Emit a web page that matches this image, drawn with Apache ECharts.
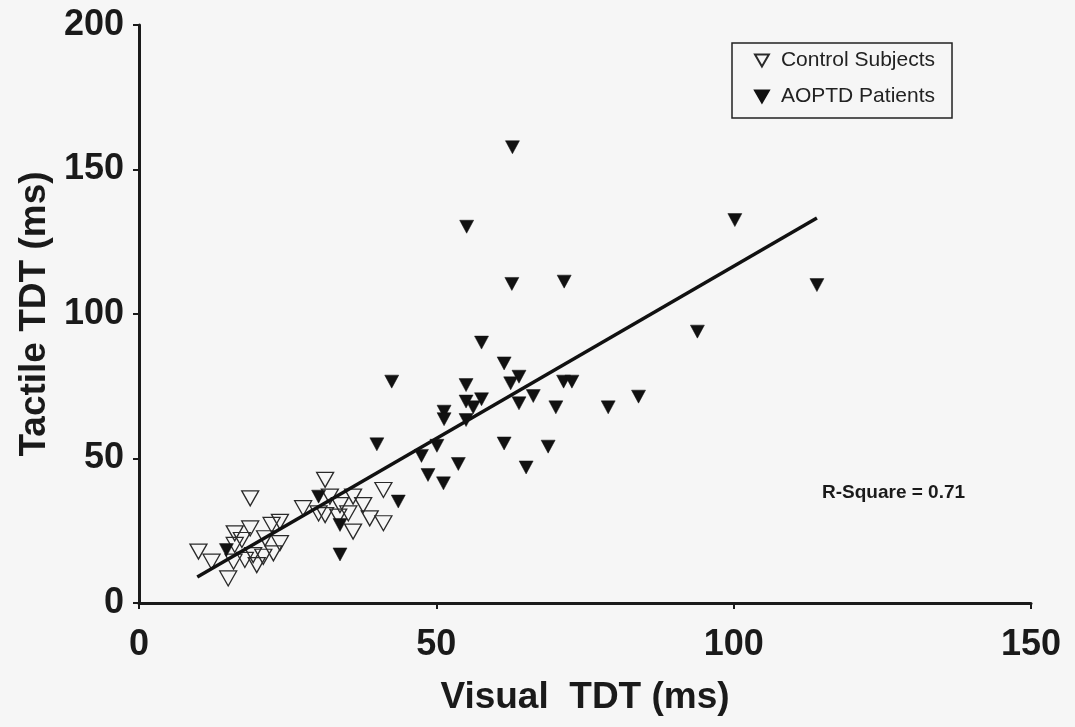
<!DOCTYPE html>
<html lang="en">

<head>
  <meta charset="UTF-8">
  <title>Tactile vs Visual TDT</title>
  <style>
    html, body { margin: 0; padding: 0; background: #f6f6f6; }
    #chart { width: 1075px; height: 727px; }
  </style>
  <script src="https://cdn.jsdelivr.net/npm/echarts@6/dist/echarts.min.js"></script>
</head>

<body>
  <div id="chart"></div>
  <script>
    // control subjects (open triangles)
    const controlX = [10.0, 12.2, 15.0, 18.7, 16.1, 18.7, 17.3, 16.1, 22.3, 23.7, 21.2, 23.7, 22.6, 20.9, 19.8, 19.2, 17.8, 15.9,
      31.3, 41.1, 27.6, 32.1, 36.0, 37.7, 33.8, 30.2, 35.2, 33.5, 38.8, 41.1, 36.0, 31.3];
    const controlY = [17.8, 14.3, 8.5, 36.2, 24.1, 25.8, 21.8, 20.1, 27.0, 28.1, 22.4, 20.7, 17.2, 16.0, 13.1, 16.6, 14.9, 14.3,
      42.6, 39.1, 32.8, 36.8, 36.8, 33.9, 33.9, 31.0, 31.0, 29.9, 29.3, 27.6, 24.7, 30.4];

    // AOPTD patients (filled triangles)
    const patientX = [62.8, 100.2, 114.0, 55.1, 62.7, 71.5, 93.9, 57.6, 61.4, 42.5, 55.0, 63.9, 62.5, 71.4, 72.8, 66.3,
      57.6, 55.0, 56.2, 63.9, 70.1, 78.9, 84.0, 51.3, 51.3, 55.0, 40.0, 50.1, 61.4, 68.8, 47.5, 53.7, 48.6, 51.2,
      65.1, 43.6, 30.2, 33.8, 33.8, 14.7];
    const patientY = [157.7, 132.5, 110.0, 130.2, 110.4, 111.2, 93.9, 90.1, 82.9, 76.6, 75.4, 78.3, 76.0, 76.6, 76.6, 71.6,
      70.5, 69.7, 67.7, 69.1, 67.7, 67.7, 71.4, 66.2, 63.6, 63.3, 54.9, 54.4, 55.2, 54.1, 50.9, 48.1, 44.3, 41.4,
      46.9, 35.1, 36.8, 27.0, 16.8, 18.3];

    // regression line end points
    const fitX = [9.8, 114.0];
    const fitY = [9.0, 133.2];

    const xTicks = [0, 50, 100, 150];
    const yTicks = [0, 50, 100, 150, 200];

    const downTri = 'path://M0,0L20,0L10,17.3Z';
    const font = '"Liberation Sans", Arial, sans-serif';

    function pairs(xs, ys) {
      return xs.map(function (x, i) { return [x, ys[i]]; });
    }

    let myChart = echarts.init(document.getElementById('chart'), null, { renderer: 'canvas' });

    let option = {
      backgroundColor: '#f6f6f6',
      animation: false,
      grid: {
        left: 139,
        right: 44,
        top: 25,
        bottom: 124
      },
      legend: {
        orient: 'vertical',
        left: 732,
        top: 43,
        padding: [7, 17, 11, 22],
        itemGap: 15,
        itemWidth: 14,
        itemHeight: 12,
        borderColor: '#222',
        borderWidth: 1.5,
        textStyle: {
          fontFamily: font,
          fontSize: 21,
          color: '#222',
          padding: [0, 0, 0, 7]
        },
        data: ['Control Subjects', 'AOPTD Patients']
      },
      xAxis: {
        type: 'value',
        min: xTicks[0],
        max: xTicks[xTicks.length - 1],
        interval: 50,
        name: 'Visual  TDT (ms)',
        nameLocation: 'middle',
        nameGap: 76,
        nameTextStyle: { fontFamily: font, fontSize: 37, fontWeight: 'bold', color: '#1a1a1a' },
        splitLine: { show: false },
        axisLine: { lineStyle: { color: '#1a1a1a', width: 3 } },
        axisTick: { show: true, inside: false, length: 6, lineStyle: { color: '#1a1a1a', width: 2 } },
        axisLabel: { margin: 24, fontFamily: font, fontSize: 36, fontWeight: 'bold', color: '#1a1a1a' }
      },
      yAxis: {
        type: 'value',
        min: yTicks[0],
        max: yTicks[yTicks.length - 1],
        interval: 50,
        name: 'Tactile TDT (ms)',
        nameLocation: 'middle',
        nameGap: 86,
        nameRotate: 90,
        nameTextStyle: { fontFamily: font, fontSize: 37, fontWeight: 'bold', color: '#1a1a1a' },
        splitLine: { show: false },
        axisLine: { show: true, lineStyle: { color: '#1a1a1a', width: 3 } },
        axisTick: { show: true, inside: false, length: 6, lineStyle: { color: '#1a1a1a', width: 2 } },
        axisLabel: { margin: 15, fontFamily: font, fontSize: 36, fontWeight: 'bold', color: '#1a1a1a' }
      },
      graphic: [
        {
          type: 'text',
          left: 822,
          top: 483,
          style: {
            text: 'R-Square = 0.71',
            fontFamily: font,
            fontSize: 19,
            fontWeight: 'bold',
            fill: '#1a1a1a'
          }
        }
      ],
      series: [
        {
          name: 'Control Subjects',
          type: 'scatter',
          symbol: downTri,
          symbolSize: [17, 15],
          itemStyle: {
            color: 'rgba(255,255,255,0)',
            borderColor: '#2a2a2a',
            borderWidth: 1.3,
            opacity: 1
          },
          data: pairs(controlX, controlY),
          z: 2
        },
        {
          name: 'AOPTD Patients',
          type: 'scatter',
          symbol: downTri,
          symbolSize: [14, 13],
          itemStyle: {
            color: '#111',
            borderColor: '#111',
            borderWidth: 0.5,
            opacity: 1
          },
          data: pairs(patientX, patientY),
          z: 3
        },
        {
          name: 'fit',
          type: 'line',
          symbol: 'none',
          lineStyle: { color: '#111', width: 3.5 },
          data: pairs(fitX, fitY),
          z: 4
        }
      ]
    };

    myChart.setOption(option);

    window.onresize = function () {
      myChart.resize();
    }
  </script>
</body>

</html>
